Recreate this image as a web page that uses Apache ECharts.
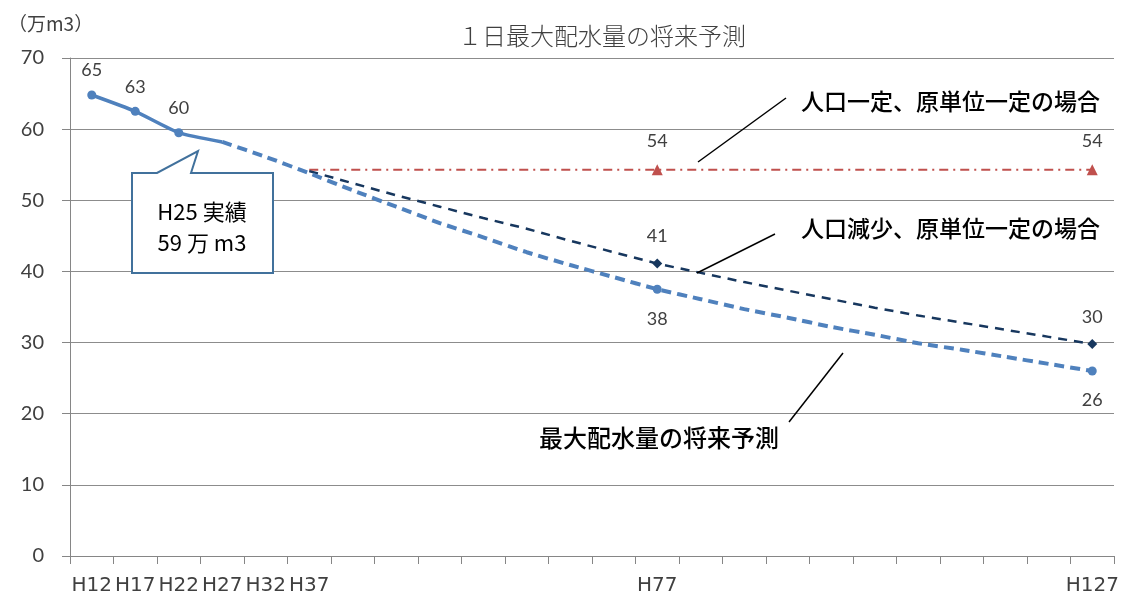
<!DOCTYPE html>
<html>
<head>
<meta charset="utf-8">
<title>１日最大配水量の将来予測</title>
<script src="https://cdn.jsdelivr.net/npm/echarts@6/dist/echarts.min.js"></script>
<style>
  html, body { margin: 0; padding: 0; background: #fff; }
  #chart { width: 1123px; height: 599px; }
</style>
</head>
<body>
<div id="chart"></div>
<script>
// Fiscal years (Heisei), 5-year steps
const categories = ['H12','H17','H22','H27','H32','H37','H42','H47','H52','H57','H62','H67',
                    'H72','H77','H82','H87','H92','H97','H102','H107','H112','H117','H122','H127'];
const shownTickLabels = ['H12','H17','H22','H27','H32','H37','H77','H127'];

// 実績 (万m3)
const actual = [64.8, 62.5, 59.5, 58.2, null, null, null, null, null, null, null, null,
                null, null, null, null, null, null, null, null, null, null, null, null];
// 最大配水量の将来予測
const forecast = [null, null, null, 58.2, 56.1, 53.8, 51.4, 49.1, 46.8, 44.8, 42.7, 40.9,
                  39.2, 37.5, 36.1, 34.7, 33.5, 32.2, 31.1, 29.9, 29.0, 28.0, 27.0, 26.0];
// 人口減少、原単位一定の場合
const popDecline = [null, null, null, null, null, 54.1, 52.4, 50.7, 49.1, 47.5, 46.0, 44.3,
                    42.7, 41.1, 39.8, 38.5, 37.3, 36.1, 34.9, 33.8, 32.8, 31.8, 30.8, 29.8];
// 人口一定、原単位一定の場合
const popConstant = [null, null, null, null, null, 54.3, 54.3, 54.3, 54.3, 54.3, 54.3, 54.3,
                     54.3, 54.3, 54.3, 54.3, 54.3, 54.3, 54.3, 54.3, 54.3, 54.3, 54.3, 54.3];

// Indices carrying a marker and a value label
const actualMarked = [0, 1, 2];
const projMarked = [13, 23];

const chart = echarts.init(document.getElementById('chart'), null, { renderer: 'canvas' });

const labelFont = { fontFamily: 'Lato', fontSize: 18, color: '#404040', lineHeight: 20 };
const jpFont = 'Noto Sans CJK JP';

function markedSize(idxs, size) {
  return (v, p) => idxs.indexOf(p.dataIndex) >= 0 ? size : 0;
}
function markedLabel(idxs) {
  return p => idxs.indexOf(p.dataIndex) >= 0 && p.value != null ? String(Math.round(p.value)) : '';
}

const option = {
  backgroundColor: '#fff',
  animation: false,
  title: {
    text: '１日最大配水量の将来予測',
    left: 597, top: 19, textAlign: 'center',
    textStyle: { fontFamily: jpFont, fontSize: 24, fontWeight: 300, color: '#404040' }
  },
  grid: { left: 70, right: 9, top: 58, bottom: 43, containLabel: false },
  xAxis: {
    type: 'category',
    data: categories,
    boundaryGap: true,
    axisLine: { lineStyle: { color: '#868686', width: 1 } },
    axisTick: { show: true, interval: 0, length: 8, lineStyle: { color: '#868686' } },
    axisLabel: {
      interval: 0, margin: 20,
      fontFamily: 'DejaVu Sans', fontSize: 20, color: '#404040',
      formatter: v => shownTickLabels.indexOf(v) >= 0 ? v : ''
    },
    splitLine: { show: false }
  },
  yAxis: {
    type: 'value',
    min: 0, max: 70, interval: 10,
    axisLine: { show: true, lineStyle: { color: '#868686', width: 1 } },
    axisTick: { show: true, length: 8, lineStyle: { color: '#868686' } },
    axisLabel: { margin: 26, fontFamily: 'Lato', fontSize: 20, color: '#404040' },
    splitLine: { show: true, lineStyle: { color: '#8c8c8c', width: 1 } }
  },
  series: [
    {
      name: '人口一定、原単位一定の場合',
      type: 'line',
      data: popConstant,
      symbol: 'triangle',
      symbolSize: markedSize(projMarked, 11),
      itemStyle: { color: '#C0504D' },
      lineStyle: { color: '#C0504D', width: 2, type: [9, 5, 2, 5] },
      label: { show: true, position: 'top', distance: 13, formatter: markedLabel(projMarked), ...labelFont },
      z: 2
    },
    {
      name: '人口減少、原単位一定の場合',
      type: 'line',
      data: popDecline,
      symbol: 'diamond',
      symbolSize: markedSize(projMarked, 10),
      itemStyle: { color: '#17375E' },
      lineStyle: { color: '#17375E', width: 2.5, type: [9, 7] },
      label: { show: true, position: 'top', distance: 12, formatter: markedLabel(projMarked), ...labelFont },
      z: 3
    },
    {
      name: '最大配水量の将来予測',
      type: 'line',
      data: forecast,
      smooth: 0.2,
      symbol: 'circle',
      symbolSize: markedSize(projMarked, 9),
      itemStyle: { color: '#4F81BD' },
      lineStyle: { color: '#4F81BD', width: 4, type: [10, 6] },
      label: { show: true, position: 'bottom', distance: 15, formatter: markedLabel(projMarked), ...labelFont },
      z: 4
    },
    {
      name: '実績',
      type: 'line',
      data: actual,
      smooth: 0.2,
      symbol: 'circle',
      symbolSize: markedSize(actualMarked, 9),
      itemStyle: { color: '#4F81BD' },
      lineStyle: { color: '#4F81BD', width: 3.5, type: 'solid' },
      label: { show: true, position: 'top', distance: 10, formatter: markedLabel(actualMarked), ...labelFont },
      z: 5
    }
  ],
  graphic: [
    // unit caption of the value axis
    { type: 'text', left: 8, top: 14, z: 10,
      style: { text: '（万m3）', fontFamily: jpFont, fontSize: 19, fill: '#404040' } },

    // call-out for the H25 actual value
    { type: 'polygon', z: 20,
      shape: { points: [[132,173],[157,173],[198,151],[191,173],[273,173],[273,273],[132,273]] },
      style: { fill: '#ffffff', stroke: '#41719C', lineWidth: 2 } },
    { type: 'text', z: 21, x: 202, y: 212,
      style: { text: 'H25 実績', fontFamily: jpFont, fontSize: 22, fill: '#000', align: 'center', verticalAlign: 'middle' } },
    { type: 'text', z: 21, x: 202, y: 243,
      style: { text: '59 万 m3', fontFamily: jpFont, fontSize: 22, fill: '#000', align: 'center', verticalAlign: 'middle' } },

    // series annotations with leader lines
    { type: 'line', z: 10, shape: { x1: 698, y1: 162, x2: 786, y2: 98 }, style: { stroke: '#000', lineWidth: 1.5 } },
    { type: 'text', z: 10, x: 801, y: 101,
      style: { text: '人口一定、原単位一定の場合', fontFamily: jpFont, fontSize: 23, fontWeight: 500, fill: '#000', verticalAlign: 'middle' } },

    { type: 'line', z: 10, shape: { x1: 697, y1: 273, x2: 775, y2: 234 }, style: { stroke: '#000', lineWidth: 1.5 } },
    { type: 'text', z: 10, x: 801, y: 228,
      style: { text: '人口減少、原単位一定の場合', fontFamily: jpFont, fontSize: 23, fontWeight: 500, fill: '#000', verticalAlign: 'middle' } },

    { type: 'line', z: 10, shape: { x1: 789, y1: 422, x2: 843, y2: 353 }, style: { stroke: '#000', lineWidth: 1.5 } },
    { type: 'text', z: 10, x: 539, y: 438,
      style: { text: '最大配水量の将来予測', fontFamily: jpFont, fontSize: 24, fontWeight: 500, fill: '#000', verticalAlign: 'middle' } }
  ]
};

chart.setOption(option);
</script>
</body>
</html>
